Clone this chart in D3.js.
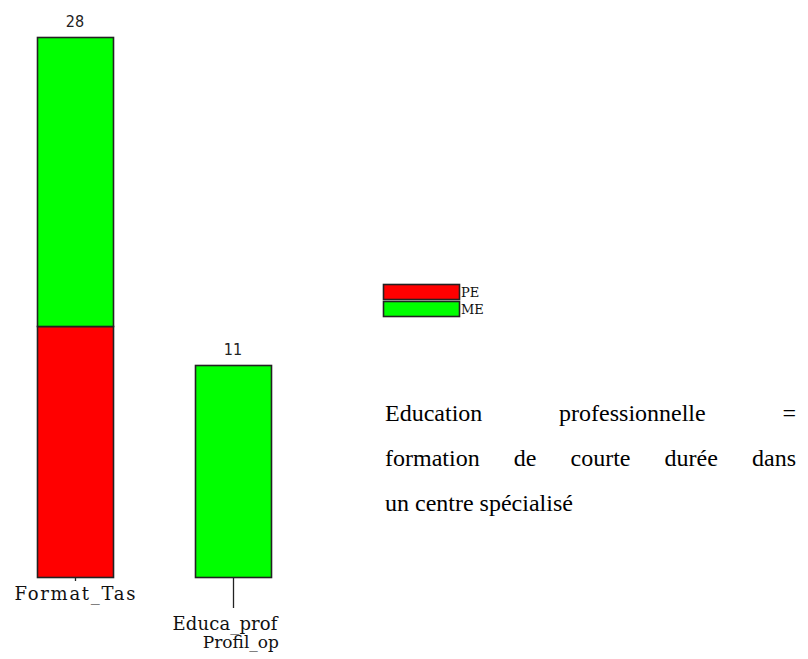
<!DOCTYPE html>
<html>
<head>
<meta charset="utf-8">
<script src="https://cdn.jsdelivr.net/npm/d3@7"></script>
<style>
  html, body { margin: 0; padding: 0; background: #fff; }
  svg { display: block; }
  .note text { font-family: "Liberation Serif", "Times New Roman", Times, serif; font-size: 24px; fill: #000; }
</style>
</head>
<body>
<svg id="chart" width="808" height="659"></svg>
<script>
// ---- data ----
const categories = ["Format_Tas", "Educa_prof"];
const subLabels = ["", "Profil_op"];
const seriesNames = ["PE", "ME"];
const PE = [13, 0];
const ME = [15, 11];
const totals = [28, 11];
const noteLines = [
  ["Education", "professionnelle", "="],
  ["formation", "de", "courte", "durée", "dans"],
  ["un centre spécialisé"]
];

const colors = { PE: "#ff0000", ME: "#00ff00" };

const svg = d3.select("#chart");

const x = d3.scaleBand().domain(categories).range([37, 271]).paddingInner(0.519).paddingOuter(0);
const y = d3.scaleLinear().domain([0, 28]).range([577, 37]);

const stackData = categories.map((c, i) => ({ cat: c, PE: PE[i], ME: ME[i] }));
const stacked = d3.stack().keys(seriesNames)(stackData);

const g = svg.append("g");

stacked.forEach(layer => {
  g.selectAll(null).data(layer.filter(d => d[1] - d[0] > 0)).enter().append("rect")
    .attr("x", d => Math.round(x(d.data.cat)) + 0.5)
    .attr("y", d => Math.round(y(d[1])) + 0.5)
    .attr("width", Math.round(x.bandwidth()))
    .attr("height", d => Math.round(y(d[0])) - Math.round(y(d[1])))
    .attr("fill", colors[layer.key])
    .attr("stroke", "#222")
    .attr("stroke-width", 1.6);
});

// value labels
g.selectAll(null).data(categories).enter().append("text")
  .attr("x", (c) => x(c) + x.bandwidth() / 2)
  .attr("y", (c, i) => y(totals[i]) - 10)
  .attr("text-anchor", "middle")
  .attr("font-family", "DejaVu Sans Condensed, DejaVu Sans")
  .attr("font-size", 16)
  .attr("fill", "#222")
  .text((c, i) => totals[i]);

// ticks (staggered)
const tickLen = [4, 31];
g.selectAll(null).data(categories).enter().append("line")
  .attr("x1", c => Math.round(x(c) + x.bandwidth() / 2) + 0.5)
  .attr("x2", c => Math.round(x(c) + x.bandwidth() / 2) + 0.5)
  .attr("y1", y(0))
  .attr("y2", (c, i) => y(0) + tickLen[i])
  .attr("stroke", "#222")
  .attr("stroke-width", 1.3);

// category labels
const labFont = { family: "DejaVu Serif", size: 18 };
const lab = g.selectAll(null).data(categories).enter().append("text")
  .attr("font-family", labFont.family)
  .attr("font-size", labFont.size)
  .attr("fill", "#111")
  .attr("lengthAdjust", "spacing");
lab.filter((c, i) => i === 0)
  .attr("x", c => x(c) + x.bandwidth() / 2)
  .attr("y", 600)
  .attr("text-anchor", "middle")
  .attr("textLength", 121)
  .text(c => c);
lab.filter((c, i) => i === 1)
  .attr("x", c => x(c) + x.bandwidth() / 2 - 8)
  .attr("y", 630)
  .attr("text-anchor", "middle")
  .attr("textLength", 105)
  .text(c => c);
g.selectAll(null).data(categories.filter((c, i) => subLabels[i])).enter().append("text")
  .attr("x", c => x(c) + x.bandwidth() / 2 + 46)
  .attr("y", 648)
  .attr("text-anchor", "end")
  .attr("font-family", labFont.family)
  .attr("font-size", labFont.size - 1)
  .attr("fill", "#111")
  .text(c => subLabels[categories.indexOf(c)]);

// legend
const leg = svg.append("g").attr("transform", "translate(383,284)");
seriesNames.forEach((s, i) => {
  leg.append("rect")
    .attr("x", 0.5).attr("y", i * 17 + 0.5)
    .attr("width", 76).attr("height", 15)
    .attr("fill", colors[s]).attr("stroke", "#222").attr("stroke-width", 1.6);
  leg.append("text")
    .attr("x", 78).attr("y", i * 17 + 13)
    .attr("font-family", "DejaVu Serif").attr("font-size", 13)
    .attr("fill", "#111")
    .text(s);
});

// justified note
const noteLeft = 385, noteRight = 796, baseY = 421, lineH = 45;
const note = svg.append("g").attr("class", "note");
noteLines.forEach((words, li) => {
  const ts = words.map(w => note.append("text").attr("y", baseY + li * lineH).text(w));
  const widths = ts.map(t => t.node().getComputedTextLength());
  const total = d3.sum(widths);
  const last = li === noteLines.length - 1;
  const gap = (!last && words.length > 1) ? (noteRight - noteLeft - total) / (words.length - 1) : 0;
  let cx = noteLeft;
  ts.forEach((t, k) => { t.attr("x", cx); cx += widths[k] + gap; });
});
</script>
</body>
</html>
